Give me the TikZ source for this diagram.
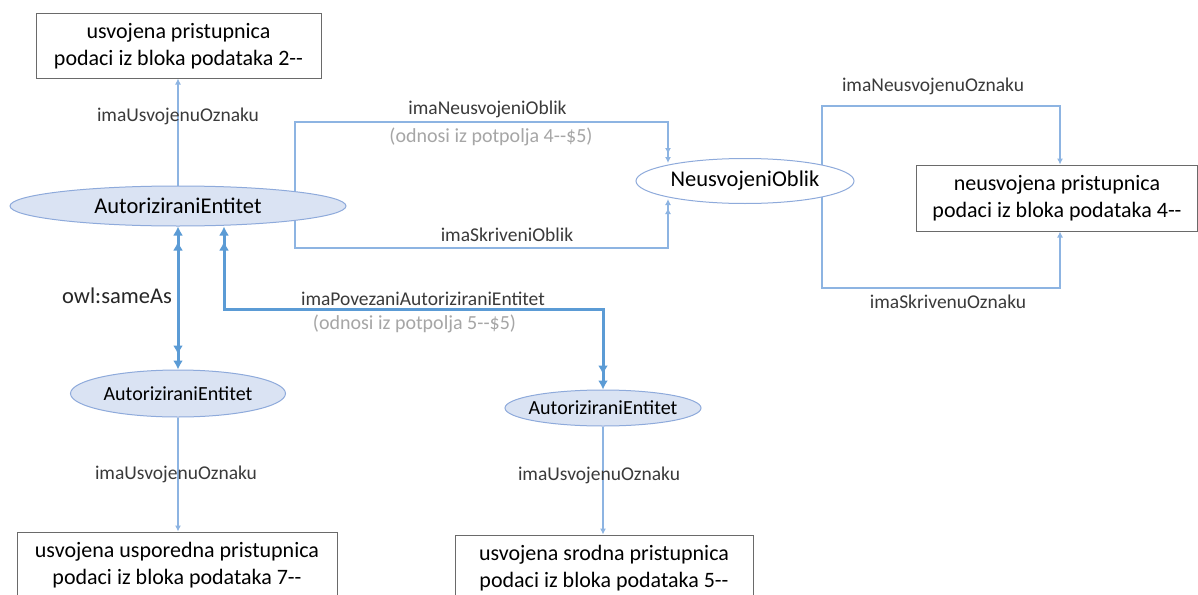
\documentclass[tikz,border=0pt]{standalone}
\usepackage{fontspec}
\setmainfont{Carlito}
\usetikzlibrary{arrows.meta,shapes.geometric,decorations.markings,calc}
\definecolor{thinblue}{HTML}{8DB4E2}
\definecolor{thickblue}{HTML}{5B9BD5}
\definecolor{boxgray}{HTML}{6A6A6A}
\definecolor{ellborder}{HTML}{8EAADB}
\definecolor{ellfill}{HTML}{DAE3F3}
\definecolor{lbl}{HTML}{3A3A3A}
\definecolor{notegray}{HTML}{A6A6A6}
\pgfdeclarelayer{bg}
\pgfsetlayers{bg,main}
\tikzset{
  box/.style={draw=boxgray, line width=1pt, rectangle, align=center, inner sep=0pt, fill=white,
    font=\fontsize{22}{27}\selectfont, text=black},
  ent/.style={ellipse, draw=ellborder, fill=ellfill, line width=1pt, inner xsep=-30pt, inner ysep=-6pt},
  lab/.style={font=\fontsize{19.5}{23}\selectfont, text=lbl, inner sep=0pt},
  note/.style={font=\fontsize{20}{24}\selectfont, text=notegray, inner sep=0pt},
  conn/.style={draw=thinblue, line width=1.2pt, -{Latex[length=6pt,width=6pt]}},
  conndbl/.style={conn, postaction={decorate}, decoration={markings,
      mark=at position -9pt with {\arrow[color=thinblue]{Latex[length=6pt,width=6pt]}}}},
  thk/.style={draw=thickblue, line width=3pt,
      {Latex[length=9pt,width=10pt]}-{Latex[length=9pt,width=10pt]},
      postaction={decorate}, decoration={markings,
      mark=at position 15pt with {\arrowreversed[color=thickblue]{Latex[length=9pt,width=10pt]}},
      mark=at position -15pt with {\arrow[color=thickblue]{Latex[length=9pt,width=10pt]}}}},
}
\begin{document}
\begin{tikzpicture}[x=1pt,y=-1pt]
\useasboundingbox (0,0) rectangle (1198,594);

% nodes
\node[box, minimum width=285pt, minimum height=64pt] (b1) at (178.5,46) {usvojena pristupnica\\podaci iz bloka podataka 2{-}{-}};
\node[ent, minimum width=336pt, minimum height=40pt, font=\fontsize{22.5}{27}\selectfont] (ae1) at (178,206) {AutoriziraniEntitet};
\node[ent, fill=white, minimum width=218pt, minimum height=45pt, font=\fontsize{22.5}{27}\selectfont] (nob) at (745,181) {NeusvojeniOblik};
\node[box, minimum width=281pt, minimum height=66pt] (b2) at (1057,198) {neusvojena pristupnica\\podaci iz bloka podataka 4{-}{-}};
\node[ent, minimum width=215pt, minimum height=47pt, font=\fontsize{20}{24}\selectfont] (ae2) at (178,393.5) {AutoriziraniEntitet};
\node[ent, minimum width=196pt, minimum height=36pt, font=\fontsize{20}{24}\selectfont] (ae3) at (603,408) {AutoriziraniEntitet};
\node[box, minimum width=320pt, minimum height=66pt] (b3) at (177,565) {usvojena usporedna pristupnica\\podaci iz bloka podataka 7{-}{-}};
\node[box, minimum width=298pt, minimum height=66pt] (b4) at (604,568) {usvojena srodna pristupnica\\podaci iz bloka podataka 5{-}{-}};

% helper coordinates
\coordinate (jl) at (295,206);
\coordinate (tl) at (295,122);
\coordinate (tr) at (668,122);
\coordinate (bl) at (295,248);
\coordinate (br) at (668,248);
\coordinate (rtl) at (822,106);
\coordinate (rtr) at (1060,106);
\coordinate (rbl) at (822,288);
\coordinate (rbr) at (1060,288);
\coordinate (cp) at (224,309);

\begin{pgfonlayer}{bg}
\fill[white] (0,0) rectangle (1198,594);
\draw[conn] (ae1.north) -- (ae1.north |- b1.south);
\draw[conndbl] (jl) -- (tl) -- (tr) -- ($(nob.center)+(-77,-18)$);
\draw[conndbl] (jl) -- (bl) -- (br) -- ($(nob.center)+(-77,18)$);
\draw[conn] ($(nob.center)+(77,-16)$) -- (rtl) -- (rtr) -- (b2.north -| rtr);
\draw[conn] ($(nob.center)+(77,16)$) -- (rbl) -- (rbr) -- (b2.south -| rbr);
\draw[conn] (ae2.south) -- (ae2.south |- b3.north);
\draw[conn] (ae3.south) -- (ae3.south |- b4.north);
\end{pgfonlayer}
\draw[thk] (ae1.south) -- (ae2.north);
\draw[thk] (ae1.south -| cp) -- (cp) -| (ae3.north);

% labels
\node[lab] (l1) at (178,116) {imaUsvojenuOznaku};
\node[lab] (l2) at (487.5,109) {imaNeusvojeniOblik};
\node[note] (n1) at (491,137) {(odnosi iz potpolja 4{-}{-}\$5)};
\node[lab] (l3) at (507,235) {imaSkriveniOblik};
\node[lab] (l4) at (933,86) {imaNeusvojenuOznaku};
\node[lab] (l5) at (948,302) {imaSkrivenuOznaku};
\node[lab, text=black!85, font=\fontsize{22.5}{27}\selectfont] (l6) at (117,296) {owl:sameAs};
\node[lab] (l7) at (423,299) {imaPovezaniAutoriziraniEntitet};
\node[note] (n2) at (414.5,324) {(odnosi iz potpolja 5{-}{-}\$5)};
\node[lab] (l8) at (176,474) {imaUsvojenuOznaku};
\node[lab] (l9) at (599,475) {imaUsvojenuOznaku};
\end{tikzpicture}
\end{document}
